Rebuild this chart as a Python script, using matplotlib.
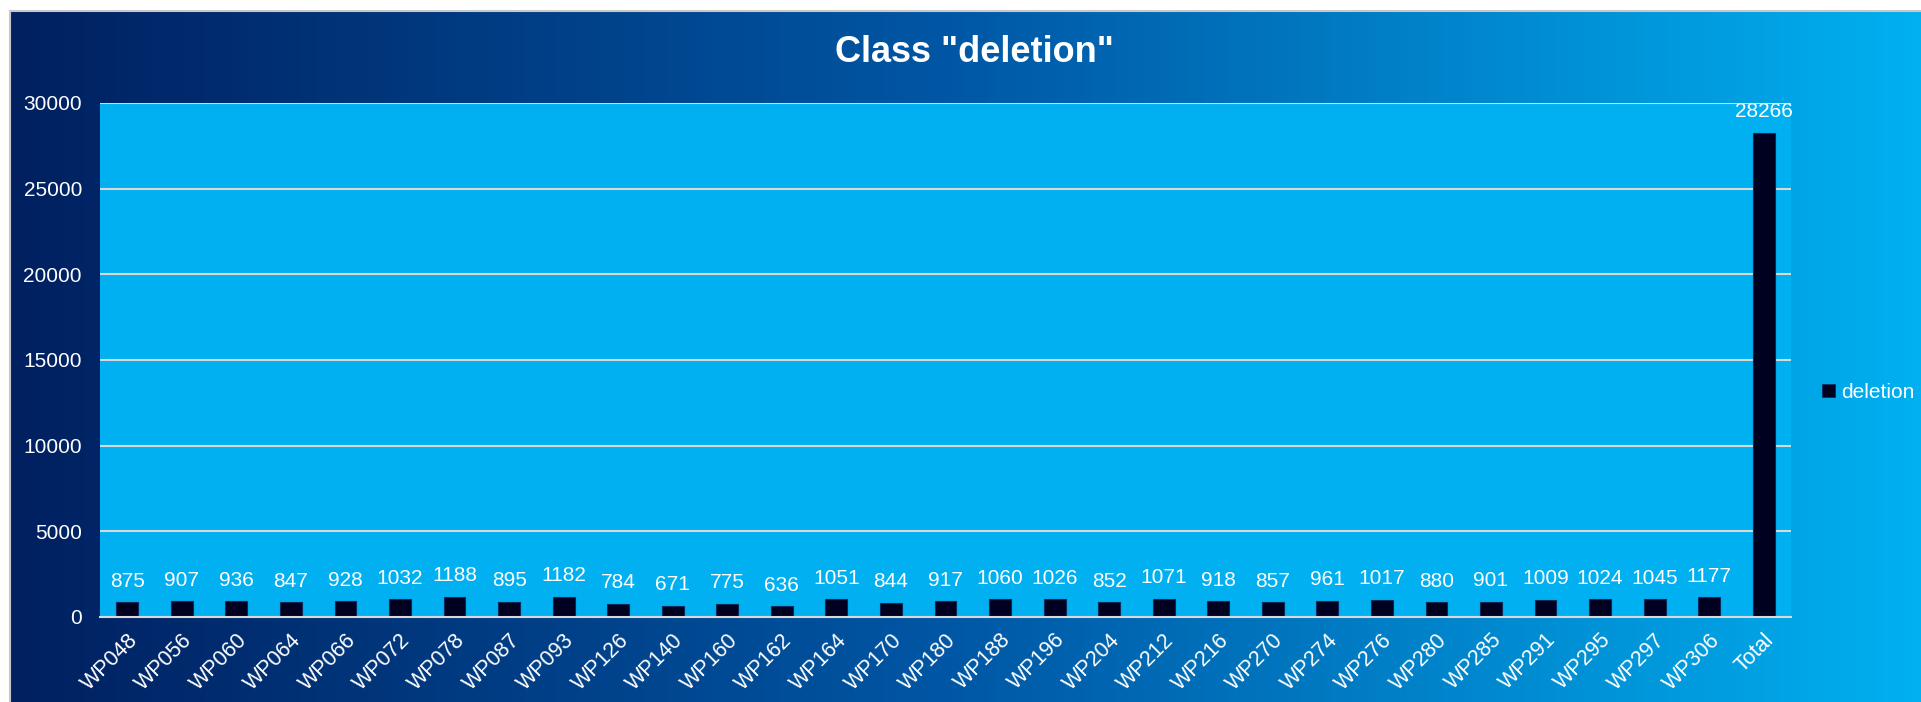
import numpy as np
import matplotlib
matplotlib.use("Agg")
import matplotlib.pyplot as plt
from matplotlib.patches import Rectangle
from matplotlib.colors import LinearSegmentedColormap

categories = ["WP048", "WP056", "WP060", "WP064", "WP066", "WP072", "WP078", "WP087",
              "WP093", "WP126", "WP140", "WP160", "WP162", "WP164", "WP170", "WP180",
              "WP188", "WP196", "WP204", "WP212", "WP216", "WP270", "WP274", "WP276",
              "WP280", "WP285", "WP291", "WP295", "WP297", "WP306", "Total"]
values = [875, 907, 936, 847, 928, 1032, 1188, 895, 1182, 784, 671, 775, 636, 1051,
          844, 917, 1060, 1026, 852, 1071, 918, 857, 961, 1017, 880, 901, 1009, 1024,
          1045, 1177, 28266]
series_name = "deletion"
title = 'Class "deletion"'
yticks = [0, 5000, 10000, 15000, 20000, 25000, 30000]

plt.rcParams['font.family'] = ['Liberation Sans', 'DejaVu Sans']

W, H = 1921, 702
fig = plt.figure(figsize=(W / 100, H / 100), dpi=100)
fig.patch.set_facecolor('white')

# gradient background
bx0, by1 = 10 / W, 1 - 11 / H
bg = fig.add_axes([bx0, 0, 1 - bx0, by1], zorder=-5)
cmap = LinearSegmentedColormap.from_list('g', ['#002060', '#0058A6', '#00B0F0'])
grad = np.linspace(0, 1, 512).reshape(1, -1)
bg.imshow(grad, aspect='auto', cmap=cmap, extent=[0, 1, 0, 1])
bg.set_xlim(0, 1); bg.set_ylim(0, 1)
bg.axis('off')
fig.add_artist(plt.Line2D([bx0, bx0], [0, by1], transform=fig.transFigure, color='#C8C8C8', lw=1.5))
fig.add_artist(plt.Line2D([bx0, 1], [by1, by1], transform=fig.transFigure, color='#C8C8C8', lw=1.5))

left, right = 100 / W, 1791 / W
bottom, top = 1 - 617 / H, 1 - 103 / H
ax = fig.add_axes([left, bottom, right - left, top - bottom])
ax.set_facecolor('#00B0F0')
x = np.arange(len(categories))
bars = ax.bar(x, values, width=0.4, color='#000020', edgecolor='#0A2A5A', linewidth=0.8, zorder=3)
ax.set_xlim(-0.5, len(categories) - 0.5)
ax.set_ylim(0, 30000)
ax.set_yticks(yticks)
ax.set_yticklabels([str(t) for t in yticks])
ax.yaxis.grid(True, color='#D9D9D9', lw=1.5, zorder=1)
ax.set_axisbelow(True)
for s in ['top', 'right', 'left']:
    ax.spines[s].set_visible(False)
ax.spines['bottom'].set_color('#D9D9D9')
ax.spines['bottom'].set_linewidth(1.5)
ax.spines['bottom'].set_zorder(4)
ax.tick_params(axis='y', length=0, pad=13, labelsize=15, labelcolor='white')
ax.tick_params(axis='x', length=0, pad=9, labelsize=15.5, labelcolor='white')
ax.set_xticks(x)
ax.set_xticklabels(categories, rotation=45, ha='right', va='top', rotation_mode='anchor')

for xi, v in zip(x, values):
    ax.annotate(str(v), (xi, v), xytext=(0, 11), textcoords='offset points',
                ha='center', va='baseline', color='white', fontsize=15, zorder=5,
                annotation_clip=False)

fig.text(974 / W, 1 - 53 / H, title, ha='center', va='center', color='white',
         fontsize=26, fontweight='bold')

handle = Rectangle((0, 0), 1, 1, facecolor='#000020', edgecolor='#0A2A5A', lw=0.5)
leg = fig.legend([handle], [series_name], loc='center left',
                 bbox_to_anchor=(1822 / W, 1 - 392 / H), frameon=False,
                 handlelength=0.6, handleheight=0.6, handletextpad=0.3,
                 fontsize=15, borderaxespad=0, borderpad=0)
for t in leg.get_texts():
    t.set_color('white')

fig.savefig('out.png', dpi=100, facecolor=fig.get_facecolor())
